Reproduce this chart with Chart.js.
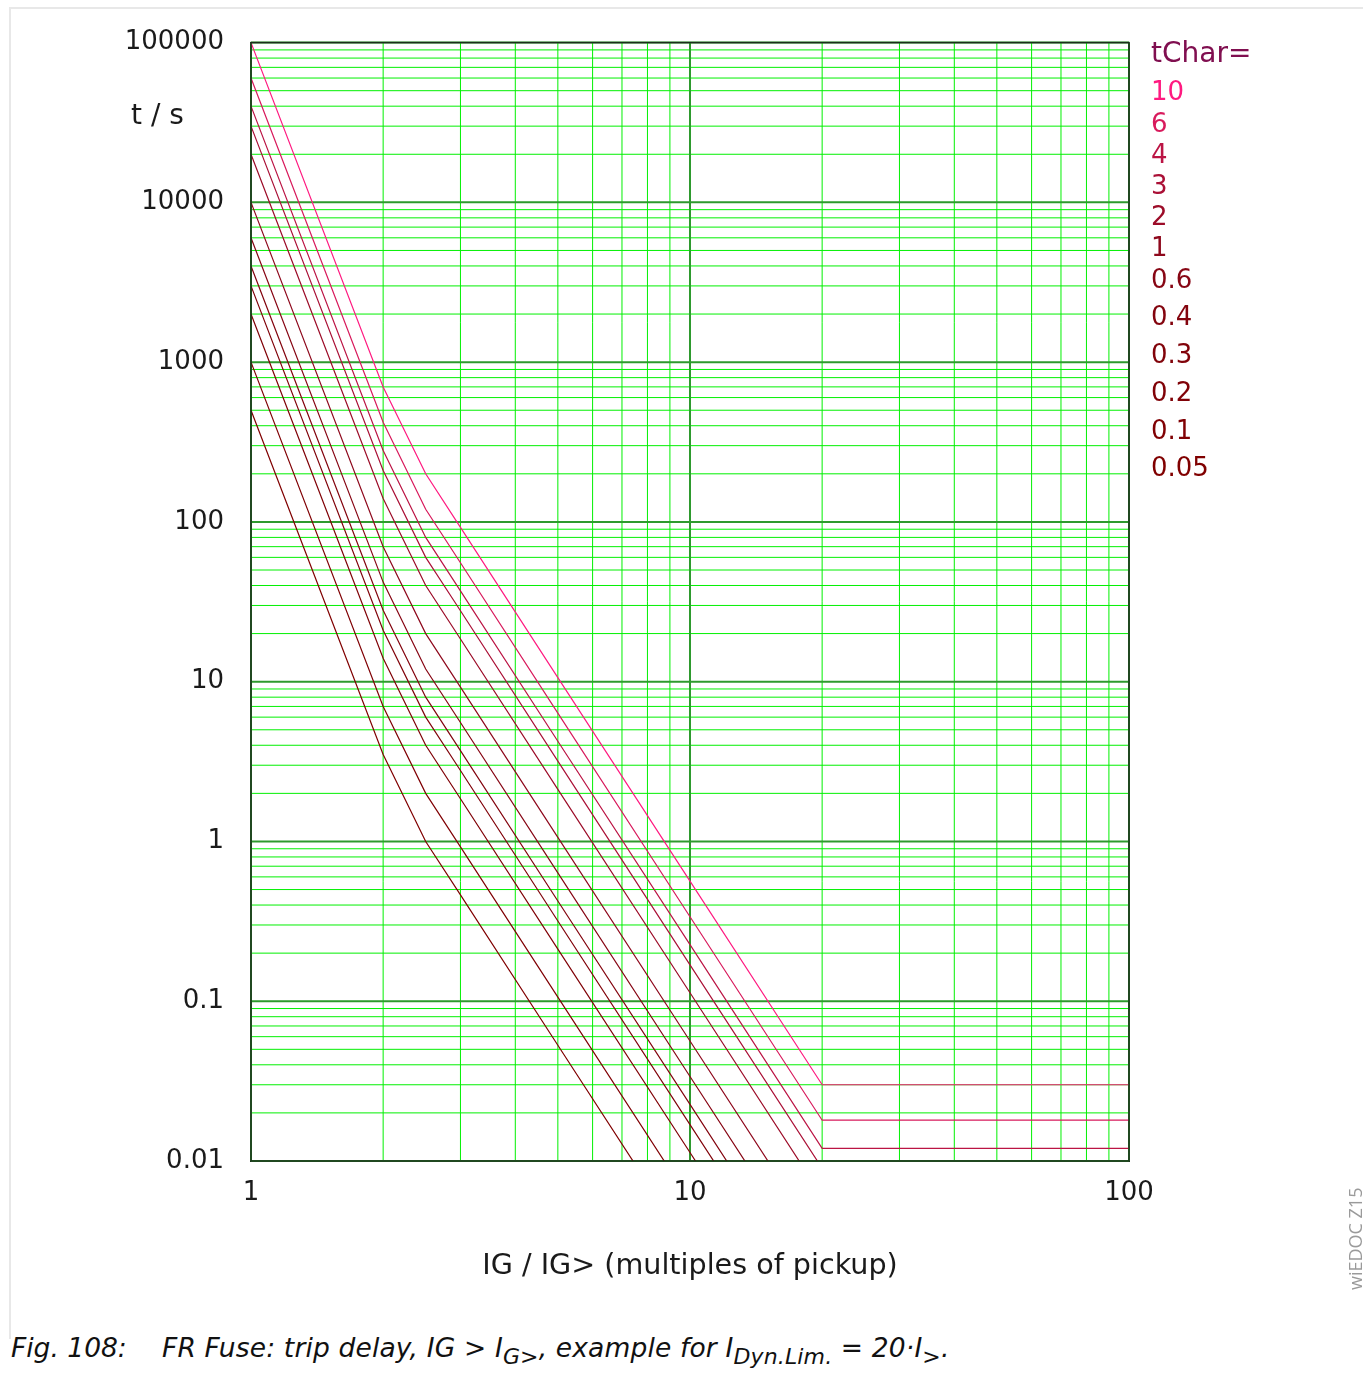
<!DOCTYPE html>
<html>
<head>
<meta charset="utf-8">
<script src="https://cdn.jsdelivr.net/npm/chart.js@4.4.1/dist/chart.umd.min.js"></script>
<style>
  body { margin: 0; background: #fff; width: 1363px; height: 1395px; position: relative; overflow: hidden; font-family: "DejaVu Sans", sans-serif; }
  #frame { position: absolute; left: 9px; top: 7px; width: 1360px; height: 1330px; border-top: 2px solid #e8e8e8; border-left: 2px solid #e8e8e8; }
  #wrap { position: absolute; left: 0; top: 0; width: 1363px; height: 1300px; }
  #caption { position: absolute; left: 11px; top: 1330px; font-family: "DejaVu Sans", sans-serif; font-style: italic; font-size: 26.5px; line-height: 36px; color: #111; white-space: nowrap; }
  #caption .num { display: inline-block; width: 151px; }
  #caption .txt { letter-spacing: 0.15px; }
  #caption sub { font-size: 22px; vertical-align: -7px; line-height: 0; }
  #docid { position: absolute; left: 1343px; top: 1290px; transform-origin: 0 0; transform: rotate(-90deg); font-family: "Open Sans", sans-serif; font-size: 18px; color: #9a9a9a; white-space: nowrap; }
</style>
</head>
<body>
<div id="frame"></div>
<div id="wrap"><canvas id="fuse" width="1363" height="1300"></canvas></div>
<div id="caption"><span class="num">Fig. 108:</span><span class="txt">FR Fuse: trip delay, IG &gt; I<sub>G&gt;</sub>, example for I<sub>Dyn.Lim.</sub> = 20·I<sub>&gt;</sub>.</span></div>
<div id="docid">wiEDOC Z15</div>
<script>
// multiples of pickup where the curves are sampled
const currentMultiples = [1, 2, 2.5, 3, 5, 10, 20, 100];

// trip times in s, one array per tChar setting
const t10 = [100000, 700, 200, 92.5, 10.6, 0.564, 0.03, 0.03];
const t6 = [60000, 420, 120, 55.5, 6.36, 0.338, 0.018, 0.018];
const t4 = [40000, 280, 80, 37, 4.24, 0.226, 0.012, 0.012];
const t3 = [30000, 210, 60, 27.8, 3.18, 0.169, 0.009, 0.009];
const t2 = [20000, 140, 40, 18.5, 2.12, 0.113, 0.006, 0.006];
const t1 = [10000, 70, 20, 9.25, 1.06, 0.0564, 0.003, 0.003];
const t06 = [6000, 42, 12, 5.55, 0.636, 0.0338, 0.0018, 0.0018];
const t04 = [4000, 28, 8, 3.7, 0.424, 0.0226, 0.0012, 0.0012];
const t03 = [3000, 21, 6, 2.78, 0.318, 0.0169, 0.0009, 0.0009];
const t02 = [2000, 14, 4, 1.85, 0.212, 0.0113, 0.0006, 0.0006];
const t01 = [1000, 7, 2, 0.925, 0.106, 0.00564, 0.0003, 0.0003];
const t005 = [500, 3.5, 1, 0.463, 0.053, 0.00282, 0.00015, 0.00015];

const tCharLabels = ["10", "6", "4", "3", "2", "1", "0.6", "0.4", "0.3", "0.2", "0.1", "0.05"];
const tripTimes = [t10, t6, t4, t3, t2, t1, t06, t04, t03, t02, t01, t005];
const curveColors = ["#ff1a80", "#d81a5c", "#bb1444", "#aa1036", "#9c0c28", "#8e081c", "#870614", "#83040e", "#81030a", "#800207", "#800104", "#800000"];

const xTickValues = [1, 10, 100];
const xTickLabels = ["1", "10", "100"];
const yTickValues = [0.01, 0.1, 1, 10, 100, 1000, 10000, 100000];
const yTickLabels = ["0.01", "0.1", "1", "10", "100", "1000", "10000", "100000"];

function isDecade(v) {
  const l = Math.log10(v);
  return Math.abs(l - Math.round(l)) < 1e-9;
}

function labelFor(values, labels, v) {
  const i = values.findIndex((d) => Math.abs(d - v) / d < 1e-9);
  return i >= 0 ? labels[i] : "";
}

// 1..9 per decade, so every minor grid line is there
function decadeTicks(min, max) {
  const ticks = [];
  for (let d = min; d < max * 0.999; d *= 10) {
    for (let m = 1; m <= 9; m++) ticks.push({ value: Number((m * d).toPrecision(6)) });
  }
  ticks.push({ value: max });
  return ticks;
}

const datasets = tripTimes.map((times, i) => ({
  label: tCharLabels[i],
  data: currentMultiples.map((x, j) => ({ x: x, y: times[j] })),
  borderColor: curveColors[i],
  borderWidth: 1.2,
  pointRadius: 0,
  fill: false,
  tension: 0,
}));

new Chart(document.getElementById("fuse"), {
  type: "line",
  data: { datasets: datasets },
  options: {
    responsive: false,
    animation: false,
    layout: { padding: { left: 0, right: 234, top: 41, bottom: 0 } },
    plugins: {
      legend: { display: false },
      tooltip: { enabled: false },
    },
    scales: {
      x: {
        type: "logarithmic",
        min: 1,
        max: 100,
        afterBuildTicks: (scale) => {
          scale.ticks = decadeTicks(1, 100);
        },
        afterFit: (scale) => {
          scale.height = 139;
        },
        grid: { display: false, drawTicks: false },
        border: { display: true, color: "#1c2e1c", width: 2 },
        ticks: {
          autoSkip: false,
          maxRotation: 0,
          padding: 17,
          color: "#1a1a1a",
          font: { family: "DejaVu Sans", size: 26 },
          callback: (v) => labelFor(xTickValues, xTickLabels, v),
        },
        title: {
          display: true,
          text: "IG / IG> (multiples of pickup)",
          color: "#1a1a1a",
          font: { family: "DejaVu Sans", size: 28.6 },
          padding: { top: 0, bottom: 16 },
        },
      },
      y: {
        type: "logarithmic",
        min: 0.01,
        max: 100000,
        afterBuildTicks: (scale) => {
          scale.ticks = decadeTicks(0.01, 100000);
        },
        afterFit: (scale) => {
          scale.width = 251;
        },
        grid: { display: false, drawTicks: false },
        border: { display: true, color: "#1c2e1c", width: 2 },
        ticks: {
          autoSkip: false,
          padding: 27,
          color: "#1a1a1a",
          font: { family: "DejaVu Sans", size: 26 },
          callback: (v) => labelFor(yTickValues, yTickLabels, v),
        },
      },
    },
  },
  plugins: [
    {
      // grid drawn at the exact scale pixel (no snapping), minor first, decades on top
      id: "logGrid",
      beforeDatasetsDraw: (chart) => {
        const { ctx, chartArea, scales } = chart;
        const { left, right, top, bottom } = chartArea;
        ctx.save();
        [false, true].forEach((major) => {
          ctx.strokeStyle = major ? "#2e9a2e" : "#00f000";
          ctx.lineWidth = major ? 2 : 1;
          ctx.beginPath();
          scales.x.ticks.forEach((t) => {
            if (isDecade(t.value) !== major) return;
            const px = scales.x.getPixelForValue(t.value);
            ctx.moveTo(px, top);
            ctx.lineTo(px, bottom);
          });
          scales.y.ticks.forEach((t) => {
            if (isDecade(t.value) !== major) return;
            const py = scales.y.getPixelForValue(t.value);
            ctx.moveTo(left, py);
            ctx.lineTo(right, py);
          });
          ctx.stroke();
        });
        ctx.restore();
      },
    },
    {
      id: "frameAndLabels",
      afterDraw: (chart) => {
        const { ctx, chartArea } = chart;
        ctx.save();
        // dark frame round the plot area
        ctx.strokeStyle = "#1c2e1c";
        ctx.lineWidth = 1.5;
        ctx.strokeRect(chartArea.left, chartArea.top, chartArea.right - chartArea.left, chartArea.bottom - chartArea.top);

        // y axis unit, written flat inside the tick column
        ctx.fillStyle = "#1a1a1a";
        ctx.textBaseline = "middle";
        ctx.textAlign = "left";
        ctx.font = "28px 'DejaVu Sans'";
        ctx.fillText("t / s", 131, 117);

        // legend column on the right
        const lx = chartArea.right + 22;
        ctx.fillStyle = "#800f50";
        ctx.fillText("tChar=", lx, 55);
        ctx.font = "26px 'DejaVu Sans'";
        const rowY = [93, 125, 156, 187, 218, 249, 281, 318, 356, 394, 432, 469];
        chart.data.datasets.forEach((ds, i) => {
          ctx.fillStyle = ds.borderColor;
          ctx.fillText(ds.label, lx, rowY[i]);
        });
        ctx.restore();
      },
    },
  ],
});
</script>
</body>
</html>
